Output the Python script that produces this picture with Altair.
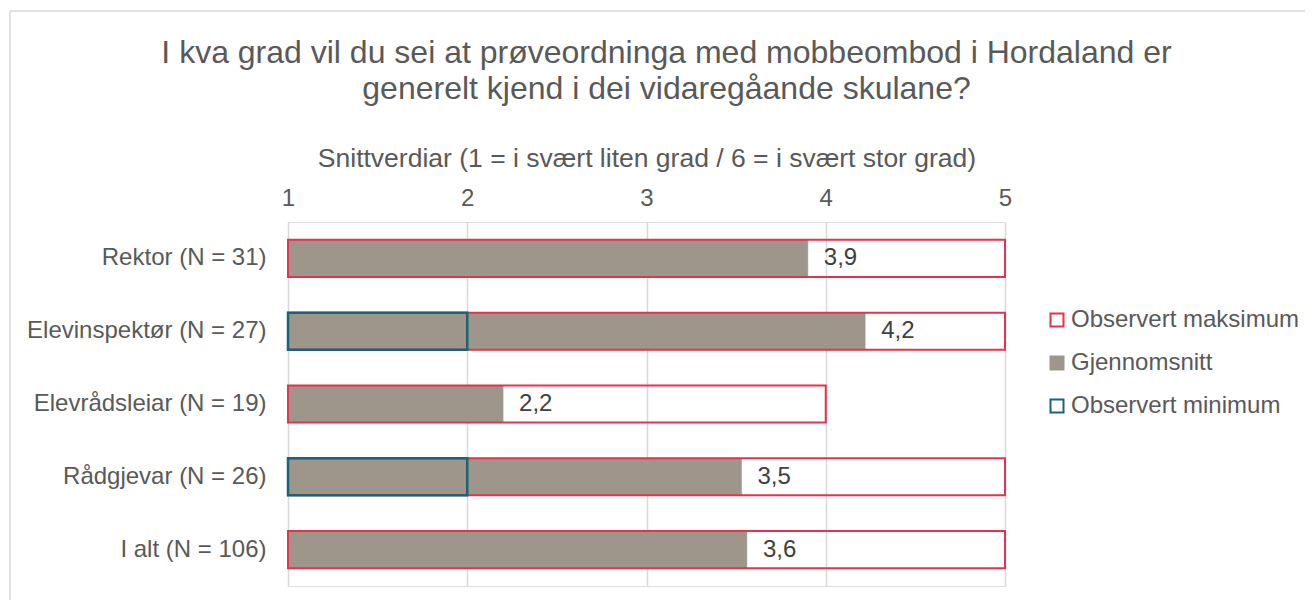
import altair as alt
import pandas as pd

categories = ["Rektor (N = 31)", "Elevinspektør (N = 27)", "Elevrådsleiar (N = 19)",
              "Rådgjevar (N = 26)", "I alt (N = 106)"]
mean_values = [3.90, 4.22, 2.20, 3.53, 3.56]
max_values = [5, 5, 4, 5, 5]
min_values = [1, 2, 1, 2, 1]
series_names = ["Observert maksimum", "Gjennomsnitt", "Observert minimum"]
x_ticks = [1, 2, 3, 4, 5]

title_lines = ["I kva grad vil du sei at prøveordninga med mobbeombod i Hordaland er",
               "generelt kjend i dei vidaregåande skulane?"]
axis_title = "Snittverdiar (1 = i svært liten grad / 6 = i svært stor grad)"

rows = []
for c, mx, mn, mi in zip(categories, max_values, mean_values, min_values):
    rows.append({"kategori": c, "serie": series_names[0], "verdi": mx})
    rows.append({"kategori": c, "serie": series_names[1], "verdi": mn})
    rows.append({"kategori": c, "serie": series_names[2], "verdi": mi})
df = pd.DataFrame(rows)

FONT = "Liberation Sans"
TXT = "#595959"
GRAY = "#9e958b"
RED = "#e8304f"
TEAL = "#1c6378"

W, H = 717, 364

legend = alt.Legend(orient="none", legendX=757, legendY=86, title=None,
                    symbolType="square", symbolSize=169, symbolStrokeWidth=2,
                    labelFontSize=24, labelColor=TXT, labelFont=FONT, labelLimit=400,
                    rowPadding=19, labelOffset=2)

fill_scale = alt.Scale(domain=series_names, range=["white", GRAY, "white"])
stroke_scale = alt.Scale(domain=series_names, range=[RED, GRAY, TEAL])

xenc = alt.X("verdi:Q",
             scale=alt.Scale(domain=[1, 5], zero=False, nice=False),
             axis=alt.Axis(orient="top", values=x_ticks, format="d", title=axis_title,
                           domain=False, ticks=False, grid=True, gridColor="#d9d9d9",
                           gridWidth=1.5, labelFontSize=24, labelColor=TXT, labelFont=FONT,
                           labelFlush=False, labelPadding=12, titleFontSize=26.5,
                           titleColor=TXT, titleFont=FONT, titleFontWeight="normal",
                           titlePadding=14))
yenc = alt.Y("kategori:N", sort=categories,
             scale=alt.Scale(paddingInner=0.49, paddingOuter=0.245),
             axis=alt.Axis(title=None, domain=False, ticks=False, labelFontSize=24,
                           labelColor=TXT, labelFont=FONT, labelPadding=22, labelLimit=400))

base = alt.Chart(df)

mean_bars = base.transform_filter(alt.datum.serie == series_names[1]).mark_bar(
    strokeWidth=0.5).encode(
    x=xenc, x2=alt.datum(1), y=yenc,
    fill=alt.Fill("serie:N", scale=fill_scale, legend=legend),
    stroke=alt.Stroke("serie:N", scale=stroke_scale, legend=legend))

max_bars = base.transform_filter(alt.datum.serie == series_names[0]).mark_bar(
    strokeWidth=2, fill="transparent").encode(
    x=xenc, x2=alt.datum(1), y=yenc,
    stroke=alt.Stroke("serie:N", scale=stroke_scale, legend=legend))

min_bars = base.transform_filter(
    (alt.datum.serie == series_names[2]) & (alt.datum.verdi > 1)).mark_bar(
    strokeWidth=2.5, fill="transparent").encode(
    x=xenc, x2=alt.datum(1), y=yenc,
    stroke=alt.Stroke("serie:N", scale=stroke_scale, legend=legend))

labels = base.transform_filter(alt.datum.serie == series_names[1]).transform_calculate(
    etikett="replace(format(datum.verdi, '.1f'), '.', ',')").mark_text(
    align="left", baseline="middle", dx=16, fontSize=24, font=FONT, color="#404040").encode(
    x=xenc, y=yenc, text="etikett:N")

frame_df = pd.DataFrame({"k": [0]})
frame_left = alt.Chart(frame_df).mark_rule(color="#d9d9d9", strokeWidth=1.5).encode(
    x=alt.value(-278), y=alt.value(-211), y2=alt.value(H + 40))
frame_top = alt.Chart(frame_df).mark_rule(color="#d9d9d9", strokeWidth=1.5).encode(
    x=alt.value(-278), x2=alt.value(W + 320), y=alt.value(-211))

chart = alt.layer(mean_bars, max_bars, min_bars, labels, frame_left, frame_top).properties(
    width=W, height=H,
    title=alt.TitleParams(text=title_lines, fontSize=32, font=FONT, color=TXT,
                          fontWeight="normal", anchor="middle", frame="group",
                          dx=20, offset=0, dy=96, lineHeight=36),
    autosize=alt.AutoSizeParams(type="none"),
    padding={"left": 280, "top": 214, "right": 300, "bottom": 14},
).configure_view(stroke=None).configure(background="white")

chart.save("out.html", embed_options={"renderer": "svg", "actions": False})
